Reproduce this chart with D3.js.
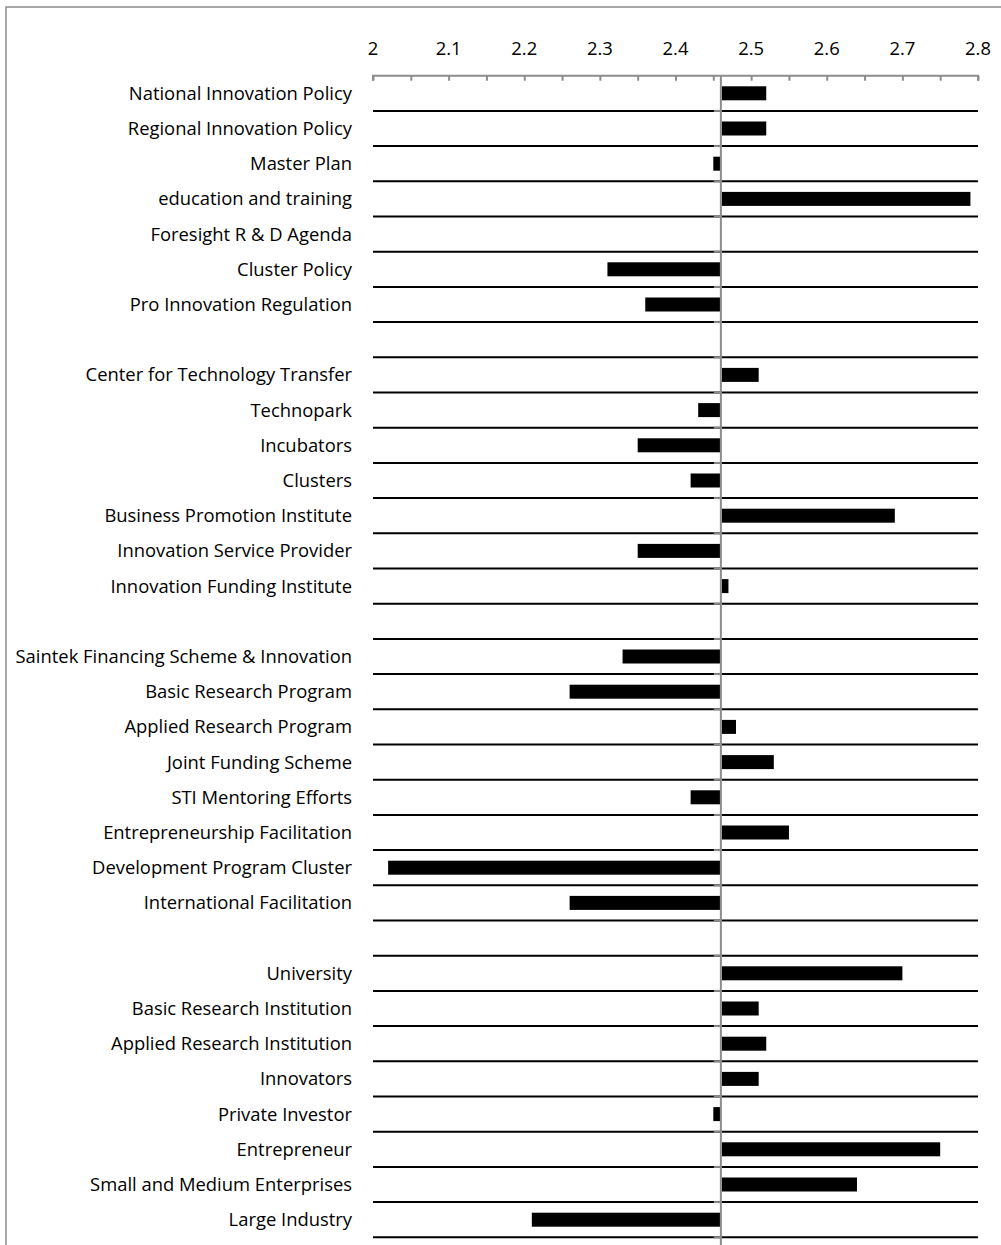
<!DOCTYPE html>
<html><head><meta charset="utf-8">
<script src="https://cdn.jsdelivr.net/npm/d3@7"></script>
<style>
html,body{margin:0;padding:0;background:#fff;}
svg{display:block;}
text{font-family:"Open Sans","Noto Sans",sans-serif;fill:#000;}
</style></head>
<body>
<svg id="chart" width="1001" height="1245"></svg>
<script>
const categories = [
  "National Innovation Policy","Regional Innovation Policy","Master Plan","education and training",
  "Foresight R & D Agenda","Cluster Policy","Pro Innovation Regulation","",
  "Center for Technology Transfer","Technopark","Incubators","Clusters",
  "Business Promotion Institute","Innovation Service Provider","Innovation Funding Institute","",
  "Saintek Financing Scheme & Innovation","Basic Research Program","Applied Research Program","Joint Funding Scheme",
  "STI Mentoring Efforts","Entrepreneurship Facilitation","Development Program Cluster","International Facilitation","",
  "University","Basic Research Institution","Applied Research Institution","Innovators",
  "Private Investor","Entrepreneur","Small and Medium Enterprises","Large Industry"
];
const values = [
  2.52, 2.52, 2.45, 2.79, 2.46, 2.31, 2.36, null,
  2.51, 2.43, 2.35, 2.42, 2.69, 2.35, 2.47, null,
  2.33, 2.26, 2.48, 2.53, 2.42, 2.55, 2.02, 2.26, null,
  2.70, 2.51, 2.52, 2.51, 2.45, 2.75, 2.64, 2.21
];
const baseline = 2.46;
const xDomain = [2, 2.8];
const tickLabels = [2, 2.1, 2.2, 2.3, 2.4, 2.5, 2.6, 2.7, 2.8];
const minorTicks = d3.range(0, 17).map(i => +(2 + i * 0.05).toFixed(2));

(function () {
const svg = d3.select("#chart");
const pLeft = 373, pRight = 978, pTop = 75.7, pBottom = 1237.3;
const fs = 18.4;

// outer frame
svg.append("path").attr("d", "M6,1245 V7 H1001")
  .attr("fill", "none").attr("stroke", "#8c8c8c").attr("stroke-width", 1.5);

const x = d3.scaleLinear().domain(xDomain).range([pLeft, pRight]);
const idx = categories.map((c, i) => i);
const y = d3.scaleBand().domain(idx).range([pTop, pBottom]).paddingInner(0).paddingOuter(0);
const bw = y.bandwidth();
const barH = 14;

// row separator lines (bottom of each band)
svg.append("g").selectAll("line").data(idx).join("line")
  .attr("x1", pLeft).attr("x2", pRight)
  .attr("y1", d => y(d) + bw).attr("y2", d => y(d) + bw)
  .attr("stroke", "#000").attr("stroke-width", 2);

// bars
const data = idx.filter(i => values[i] !== null);
svg.append("g").selectAll("rect").data(data).join("rect")
  .attr("x", i => values[i] >= baseline ? x(baseline) + 1 : x(values[i]))
  .attr("width", i => Math.max(0, values[i] >= baseline ? x(values[i]) - x(baseline) - 1 : x(baseline) - x(values[i]) - 0.5))
  .attr("y", i => y(i) + bw / 2 - barH / 2)
  .attr("height", barH)
  .attr("fill", "#000");

// category axis (vertical gray line at baseline) with ticks
const bx = x(baseline);
svg.append("line").attr("x1", bx).attr("x2", bx).attr("y1", pTop).attr("y2", 1245)
  .attr("stroke", "#8c8c8c").attr("stroke-width", 2);
svg.append("g").selectAll("line").data(idx).join("line")
  .attr("x1", bx - 7).attr("x2", bx + 1)
  .attr("y1", d => y(d) + bw).attr("y2", d => y(d) + bw)
  .attr("stroke", "#8c8c8c").attr("stroke-width", 2);

// top value axis
const axis = d3.axisBottom(x).tickValues(minorTicks).tickSize(5).tickFormat("");
const gAxis = svg.append("g").attr("transform", `translate(0,${pTop})`).call(axis);
gAxis.select(".domain").attr("stroke", "#8c8c8c").attr("stroke-width", 2)
  .attr("d", `M${pLeft},5V0H${pRight}V5`);
gAxis.selectAll(".tick line").attr("stroke", "#8c8c8c").attr("stroke-width", 2);

svg.append("g").selectAll("text").data(tickLabels).join("text")
  .attr("x", d => x(d)).attr("y", 54.5)
  .attr("text-anchor", "middle").attr("font-size", fs)
  .text(d => d3.format("")(d));

// category labels
svg.append("g").selectAll("text").data(idx).join("text")
  .attr("x", 352).attr("y", d => y(d) + bw / 2 + 6.5)
  .attr("text-anchor", "end").attr("font-size", fs)
  .text(d => categories[d]);
})();
</script>
</body></html>
